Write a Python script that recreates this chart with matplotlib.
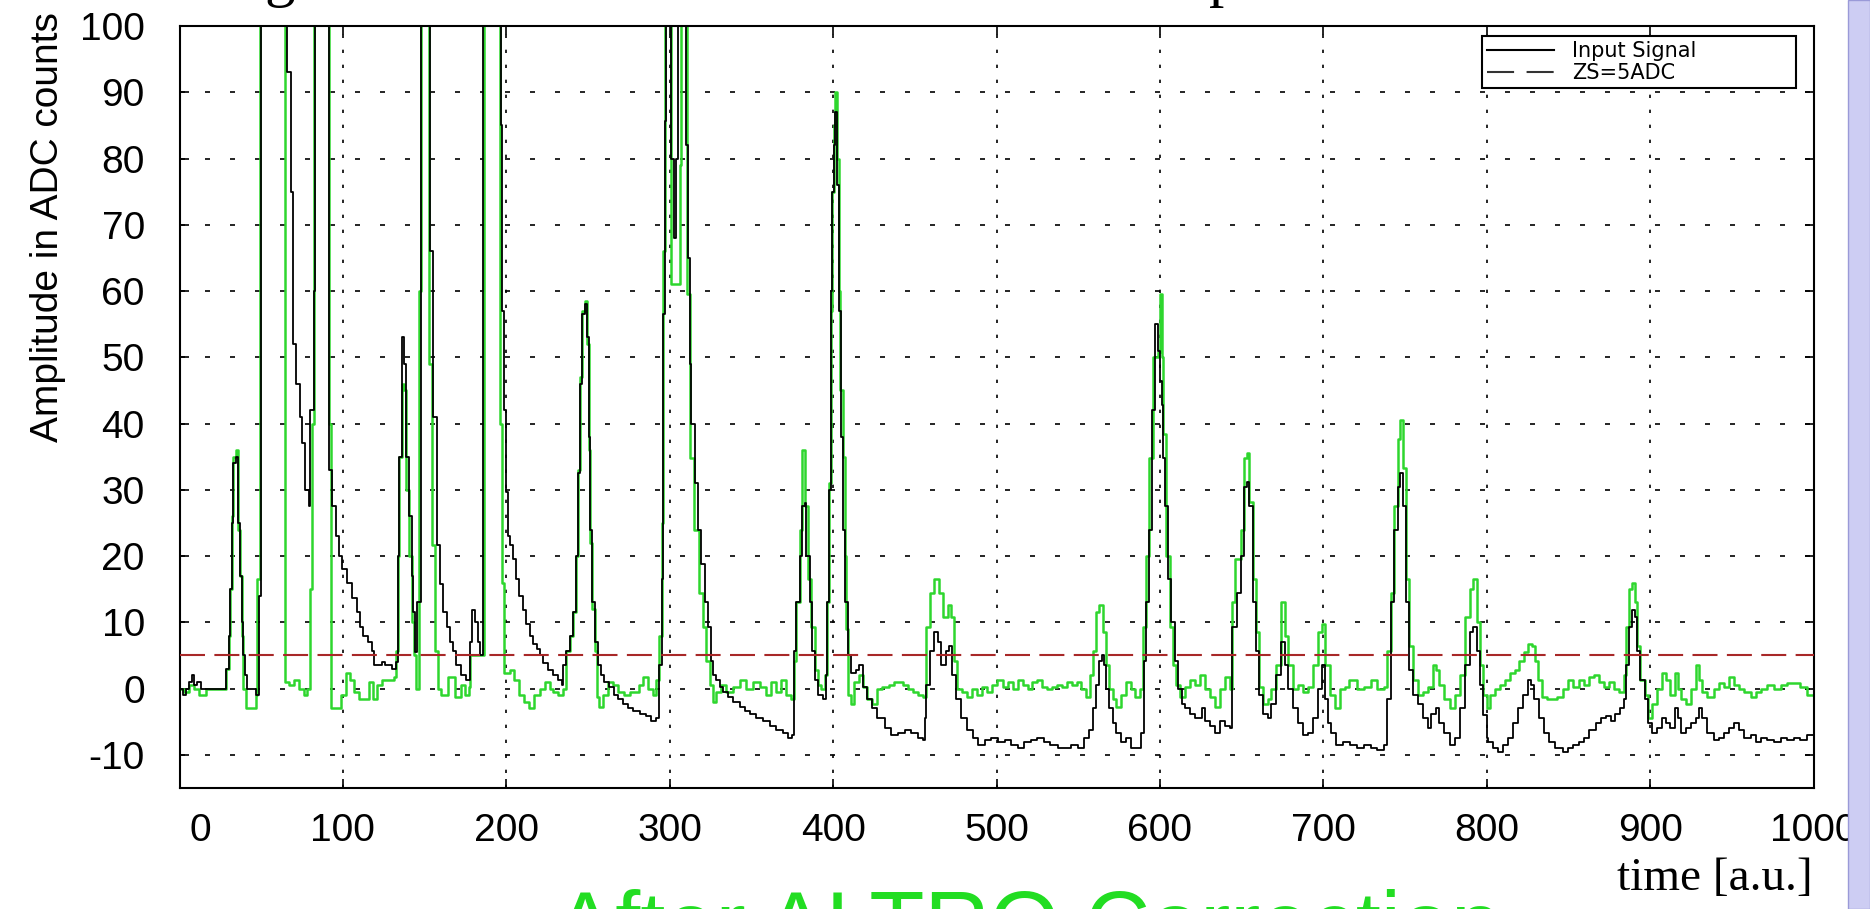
import numpy as np
import matplotlib
matplotlib.use("Agg")
import matplotlib.pyplot as plt
from matplotlib.lines import Line2D
from matplotlib.patches import Rectangle
from matplotlib.transforms import ScaledTranslation

# values; 130 = off scale (clipped at 100)
# (time bin, ADC counts), drawn as steps
input_signal = [
    (0, 0), (2, -1), (4, 0), (6, 1), (7.5, 2), (9, 0.5), (11, 1), (13, 0), (28.5, 3), (30, 8),
    (31, 15), (32, 25), (33, 34), (34.5, 35), (36, 25), (37, 17), (38, 10), (39, 5), (40, 2), (41, 0),
    (47, -1), (48.5, 14), (50, 130), (66, 93), (68.5, 75), (69.5, 52), (71.5, 46), (73.5, 41), (75, 37), (77, 30),
    (79, 27.5), (80, 42), (82, 60), (83, 130), (91.5, 33), (93.5, 27.5), (95.5, 23), (97.5, 20), (99.5, 18), (102.5, 16),
    (105.5, 13.7), (108.5, 11.5), (110.5, 9.3), (112.5, 8), (115.5, 7), (117.5, 5.7), (119, 3.5), (124, 4), (126, 3.5), (130, 3),
    (132.5, 4), (133.5, 20), (134.5, 35), (136, 53), (137.5, 49), (138.5, 35), (140.5, 26), (142, 17), (143, 11.5), (144, 5.5),
    (145.5, 13), (147.5, 130), (153.5, 66), (155, 41), (157.5, 21.7), (159.5, 15.8), (161.5, 11.5), (163.5, 9.3), (165.5, 7), (167.5, 5.7),
    (169.5, 3.5), (172.5, 2), (175.5, 1.3), (177.5, 7), (179, 11.8), (181, 10), (182.5, 7), (184, 5), (186, 130), (196.5, 85),
    (197.5, 57), (198.5, 42), (199.5, 29.7), (201, 23), (202, 21.7), (204, 19.5), (206, 16.6), (208, 14), (210.3, 11.8), (212.3, 9.7),
    (214.4, 7.9), (216.4, 6.8), (218.5, 6), (220.5, 5), (222.5, 3.9), (225.6, 2.8), (228.7, 2), (231.7, 1.3), (233.8, 0.6), (234.8, 3.5),
    (236.8, 5.7), (238.8, 7.9), (240.9, 11.5), (242.9, 20), (244, 32.6), (245, 46), (246.5, 56.6), (248, 58), (249.5, 53), (250.5, 38),
    (251.5, 24), (252.5, 13), (254, 7), (256, 3.5), (258, 2), (260, 1), (263, 0.2), (266, -0.9), (268.3, -1.6), (271.4, -2.3),
    (274.5, -3), (277.5, -3.4), (281.7, -3.8), (285.7, -4.1), (288.8, -4.9), (291.8, -4.5), (293.5, 3.5), (295, 16.6), (296, 56.6), (297, 85.7),
    (298, 130), (301, 80), (302.5, 68), (304, 80), (305, 130), (310, 82), (311.2, 65), (312.2, 49), (313.2, 40), (315.3, 31),
    (317.3, 24), (319.4, 18.8), (321.4, 13), (323.4, 9.3), (325.5, 4.2), (326.5, 2), (328.6, 1.3), (330.6, 0.2), (332.6, -0.5), (335.7, -1.2),
    (338.7, -2), (342.8, -2.7), (345.9, -3.4), (348.9, -3.8), (353, -4.5), (357.1, -4.9), (361.2, -5.6), (365.2, -6.3), (369.3, -6.7), (372.4, -7.4),
    (375, -7), (375.8, 5.7), (377.5, 13), (379.5, 20), (381, 27.5), (382.5, 28), (383.6, 20), (385.6, 13), (387.3, 5.7), (388.7, 1.3),
    (390.7, -0.9), (393.8, -1.6), (395.5, 2), (396.5, 13), (397.5, 30), (398.5, 60), (399.5, 75), (400.5, 82), (401.3, 87), (402.5, 76),
    (403.4, 57), (405, 38), (406, 24), (407, 13), (409, 5), (411, 2.4), (414, 2.8), (416, 3.5), (418, 0.2), (421, -1.6),
    (424, -3), (427, -4.5), (431.5, -6), (435.6, -7), (439.7, -6.7), (443.7, -6.3), (447.8, -6.7), (451.9, -7.4), (455, -7.8), (456, -4.5),
    (457, 0.6), (459, 5.7), (462, 8.6), (464, 7.1), (466, 3.5), (469, 5.7), (471, 6.4), (473, 2), (475, -1.6), (478, -4.5),
    (482, -6.3), (485.5, -7.4), (488.6, -8.5), (492.7, -7.8), (496.7, -7.4), (500.8, -8.1), (505, -7.8), (509, -8.5), (513, -8.9), (517, -8.1),
    (521, -7.8), (525, -7.4), (529, -8.1), (533, -8.5), (537.5, -8.9), (541.6, -8.9), (545.7, -8.5), (549.7, -8.9), (553.8, -7.4), (556.9, -6.3),
    (559, -3), (561, 0.6), (563, 4.2), (564.4, 5), (565.6, 3.5), (567, 0), (569, -3), (571, -5.2), (573, -6.7), (576, -8.1),
    (579, -7.4), (582, -8.9), (586, -8.9), (588.5, -6.7), (590, 4.2), (591.5, 13), (593.5, 24), (595, 42), (597, 55), (599, 51),
    (600, 46.4), (601, 42.8), (602, 34.8), (603, 27.5), (605, 16.6), (607, 10), (609, 4.2), (611, 0), (613.4, -2.3), (615.5, -3),
    (618.6, -3.8), (621.6, -4.5), (625.8, -3), (627.8, -4.9), (630.9, -5.6), (634, -6.7), (637, -4.9), (640, -5.6), (642.7, -6), (644.3, 9.3),
    (647.4, 14.4), (649.5, 20), (651.5, 30.4), (653, 31.2), (654.6, 27.5), (656.7, 13), (658.8, 5.7), (660.8, -0.9), (663, -3.8), (666, -4.5),
    (668, -2.3), (671, 2), (673.8, 7.1), (676.3, 3.5), (678.4, 0), (681.4, -3), (684.5, -5.2), (687.6, -7), (690.7, -6.7), (693.8, -4.5),
    (696.9, 0), (699, 3.5), (701, -1.6), (703, -5.2), (705, -6.7), (708, -8.5), (712, -8.1), (716.5, -8.5), (720.6, -8.9), (724.7, -8.5),
    (729, -8.9), (733, -9.2), (737, -8.5), (739.2, -1.6), (741.2, 13), (743.3, 24), (745.4, 30.4), (747, 32.6), (748.5, 27.5), (750.5, 13),
    (752.6, 2.8), (754.6, -0.9), (757.7, -2.3), (760.8, -4.5), (763.9, -6), (766, -3.8), (769, -3), (771, -5.2), (774, -6.7), (777.3, -8.5),
    (780.4, -7.4), (783.5, -3), (786.6, 3.5), (789.7, 8.6), (791.8, 9.3), (793.8, 5.7), (795.9, 0.6), (798, -4), (800, -7.4), (801, -8.1),
    (804, -8.9), (807, -9.6), (810, -8.5), (813, -7.4), (816, -5.2), (819, -3), (822, -0.9), (825, 1.3), (827, 0.6), (829, -1.6),
    (832, -4.5), (835, -6.7), (838, -8.1), (842, -8.9), (846.5, -9.6), (849.5, -8.9), (852.5, -8.5), (856.6, -8.1), (859.6, -7.4), (862.6, -6.3),
    (866.7, -5.2), (869.7, -4.5), (872.7, -4.1), (875.8, -4.9), (878.8, -3.8), (881.8, -3), (883.8, -1.6), (885.3, 3.5), (886.9, 9.3), (888.9, 11.8),
    (890.5, 10.8), (891.9, 5.7), (893.9, 1.3), (897, -1.6), (899, -5.2), (901, -6.7), (904, -6), (907, -4.5), (910, -5.2), (912, -6),
    (915, -3), (917, -4.5), (919, -6.7), (922, -6), (925, -5.2), (928, -4.5), (930, -3), (932, -4.5), (935, -6.7), (939, -7.8),
    (942, -7.4), (945.5, -6.7), (948.5, -6), (951.5, -5.2), (954.5, -6.3), (957.6, -7.4), (961.6, -7), (964.6, -8.1), (967.7, -7.4), (971.7, -7.8),
    (975.8, -8.1), (979.8, -7.4), (983.8, -7.8), (987.9, -7.4), (991.9, -7.8), (996, -7), (1000, -7.4),
]

after_altro = [
    (0, 0), (3, -0.5), (6, 0.5), (9, 0), (12, -1), (16, 0), (28.5, 3), (30, 8), (31, 15), (32, 26),
    (33, 35), (34.5, 36), (36, 24), (37, 17), (38, 8), (39, 0), (40.5, -3), (46.5, -1), (47.5, 16.6), (49, 130),
    (64.5, 1), (67, 0.5), (70, 1.3), (73, 0), (76, -1), (78, 0), (80, 15), (81, 40), (82.5, 130), (91.5, 40),
    (92.5, -3), (99, -1), (102, 2.4), (104.5, 1.3), (107, -0.5), (110, -1.6), (113.5, -1.6), (116, 1), (118.5, -1.6), (121, 0.6),
    (124, 1.3), (128, 1.3), (131, 1.7), (132.5, 5.7), (133.5, 20), (134.5, 35), (136, 46), (137.5, 45), (138.5, 30), (140.5, 20),
    (142, 10), (143.5, 5), (145, 0), (146.5, 60), (148, 130), (152.5, 49), (154.5, 21.7), (156.5, 5.7), (158, 0), (160, -1),
    (164.5, 1.7), (168.5, -1.2), (172, 0.6), (175, -1), (177, 0.2), (178, 5), (184, 5), (186.5, 130), (196, 40), (197.5, 16),
    (198.5, 2.4), (202, 2.8), (205, 1.3), (208, -0.9), (211, -2), (214, -3), (217, -0.9), (220.5, 0), (223.5, 1), (226.6, 0),
    (228.7, -0.5), (231.7, -0.9), (234.8, 0), (236.8, 5.7), (238.8, 7.9), (240.9, 11.5), (242.9, 20), (244, 33), (245, 47), (246.5, 57),
    (248, 58.5), (249.5, 52), (250.5, 36), (251.5, 22), (252.5, 12), (254, 5.7), (255.5, -1.2), (257, -2.7), (259, -0.9), (262, 1),
    (265, 0.6), (268.5, -0.5), (272, -0.9), (275.5, -0.5), (278.5, -0.5), (281, 0.6), (283.7, 1.7), (286.8, 0), (289.8, -0.9), (291.8, 1.3),
    (293.5, 8), (295, 25), (296, 66), (297, 130), (301, 61), (304.5, 61), (306, 79), (307, 130), (310.5, 59.5), (312.5, 34.8),
    (315, 24), (318, 14.4), (320.4, 9.3), (322.4, 4.2), (324.5, 0.6), (326.5, -2), (328.6, -0.5), (331.6, 0.6), (334.7, -0.5), (338.7, 0.2),
    (342.8, 1.3), (346.9, 0), (351, 1), (355, 0.2), (359.1, -0.9), (362.2, 1), (365.2, -0.5), (368.3, 1.3), (371.4, -0.9), (374.4, -1.6),
    (375.8, 4.2), (377.5, 13), (379.5, 24), (381, 36), (383, 27.5), (384.5, 16.6), (386.6, 9.3), (388.7, 2.8), (390.7, 0.6), (392.8, 0),
    (394.8, 2), (396.5, 13), (397.5, 31), (398.5, 57), (399.5, 75), (400.5, 85), (401.3, 90), (402.5, 80), (403.4, 60), (404.5, 45),
    (406, 35), (407, 20), (408, 9), (409, -1), (411, -2.3), (413, 1), (416, 2), (418, 0.2), (421, -1.6), (424, -2.3),
    (427, 0), (430, 0.2), (434, 0.6), (437, 1), (440, 1), (443, 0.6), (446, 0), (449, -0.5), (452, -0.9), (455, -1.2),
    (457, 9.3), (459, 14.4), (462, 16.6), (465, 14.4), (467, 10.8), (470, 12.6), (472, 10.8), (474, 4.2), (476, 0), (479, -0.5),
    (482, -1.2), (485, 0), (488, -0.9), (491, 0.2), (494, -0.5), (497, 0.6), (500, 1.3), (504, 0.2), (507, 1), (510, 0),
    (513, 1.3), (516, 0.6), (519, 0), (522, 1), (525, 1.3), (528, 0.2), (531, 0), (534, 0.2), (537, 0.6), (540, 0.2),
    (543, 1), (546, 0.6), (549, 1), (552, 0), (555, -1.2), (557, 2), (559, 5.7), (561, 11.5), (563, 12.6), (565, 8.6),
    (567, 3.5), (569, 0), (571, -1.6), (573, -2.7), (576, -0.9), (579, 1), (582, 0), (585, -1.2), (588, 0), (589.5, 9.3),
    (591.5, 20), (593.5, 34.8), (595.5, 50), (597.5, 50), (599, 50.8), (600, 59.5), (601, 50), (602, 38.4), (604, 20), (606, 9.3),
    (608, 3.5), (610, 0.6), (612, -1.2), (615.5, 0.2), (618.6, 1.3), (621.6, 0.6), (624.7, 2), (627.8, 0), (630.9, -1.2), (634, -2.7),
    (637, 0), (640, 1.7), (642.7, 0), (644.3, 13), (646, 19.5), (649.5, 24), (651.5, 34.8), (653, 35.5), (654.6, 28.2), (656.7, 16.6),
    (658.8, 8.6), (660.8, 0.2), (663, -2.3), (666, -1.6), (668, 0), (671, 3.5), (673.8, 13), (676.3, 7.9), (678.4, 3.5), (681.4, 0),
    (684.5, 0.6), (687.6, -0.5), (690.7, 0.2), (693.8, 3.5), (696.9, 8.6), (699, 9.7), (701, 3.5), (703.8, -0.9), (706.9, -3), (710, 0),
    (713.1, 0.2), (716, 1.3), (720.6, 0), (724.7, 0.2), (728.9, 1.3), (733, 0), (737.1, 0.2), (739.2, 5.7), (741.2, 14.4), (743.3, 27.5),
    (745.4, 37.7), (747, 40.6), (748.5, 33.3), (750.5, 16.6), (752.6, 6.4), (754.6, 1.3), (757.7, -0.9), (760.8, -0.5), (763.9, 0.2), (767, 3.5),
    (769, 2.8), (771, 0.6), (774, -1.6), (777.3, -3), (780.4, -0.9), (783.5, 2), (786.6, 10.8), (789.7, 15), (791.8, 16.6), (793.8, 10),
    (795.9, 3.5), (798, -1), (800, -3), (802, -0.9), (805, 0), (808, 0.6), (811, 1.3), (814, 2.4), (817, 2.8), (820, 4.2),
    (823, 5.5), (825.5, 6.8), (827.5, 6.4), (829.5, 4.2), (831.5, 1.3), (834, -1.2), (837, -1.6), (840, -1.6), (843, -1.2), (846.5, 0),
    (849.5, 1.3), (852.5, 0.2), (856.6, 1.3), (859.6, 0.6), (862.6, 1.7), (865.7, 2), (868.7, 1), (871.7, 0.2), (874.8, 1), (877.8, 0),
    (880.8, -0.5), (883.8, 2), (885.5, 9.3), (887, 15.1), (889, 15.9), (890.5, 13), (892, 6.4), (894, 1.3), (897, -0.9), (899, -4.5),
    (901, -2.3), (904, 0), (907, 2.4), (910, 1.3), (912, -0.9), (915, 2.4), (917, 0), (919, -1.6), (922, -2.3), (925, 0),
    (928, 3.5), (930, 1.3), (932, -0.5), (935, -1.2), (939, 0), (942, 0.9), (945.5, 0.2), (948.5, 1.7), (951.5, 0.6), (954.5, 0),
    (957.6, -0.5), (961.6, -1.2), (964.6, -0.5), (967.7, 0), (971.7, 0.6), (975.8, 0), (979.8, 0.6), (983.8, 0.9), (987.9, 0.9), (991.9, 0.2),
    (996, -1), (1000, 0),
]

zs_level = 5
x_ticks = np.arange(0, 1001, 100)
y_ticks = np.arange(-10, 101, 10)

t_in, adc_in = np.array(input_signal).T
t_out, adc_out = np.array(after_altro).T

plt.rcParams['font.family'] = ['Liberation Sans', 'DejaVu Sans']
plt.rcParams['axes.unicode_minus'] = False

fig = plt.figure(figsize=(18.7, 9.09), dpi=100)
ax = fig.add_axes([0.096, 0.1331, 0.8738, 0.8383])

ax.step(t_out, adc_out, where='post', color='#2ed62e', lw=1.8, zorder=2)
ax.step(t_in, adc_in, where='post', color='black', lw=1.3, zorder=3)
ax.axhline(zs_level, color='#a82828', lw=1.5, dashes=(12, 4.5), zorder=4)

ax.set_xlim(0, 1000)
ax.set_ylim(-15, 100)
ax.set_xticks(x_ticks)
ax.set_yticks(y_ticks)
ax.tick_params(direction='in', length=6.5, width=1.2, top=True, right=True, labelsize=28)
ax.tick_params(axis='y', pad=25)
ax.tick_params(axis='x', pad=18)
ax.xaxis.grid(True, color='black', lw=1.2, ls=(0, (2, 7)))
ax.yaxis.grid(True, color='black', lw=1.2, ls=(0, (3, 12)))
for s in ax.spines.values():
    s.set_linewidth(1.5)

# the "0" label sits a bit right of its tick, as in the original
lab0 = ax.xaxis.get_major_ticks()[0].label1
lab0.set_transform(lab0.get_transform() + ScaledTranslation(0.21, 0, fig.dpi_scale_trans))

handles = [Line2D([], [], color='black', lw=1.5),
           Line2D([], [], color='#333333', lw=1.5, dashes=(13, 6))]
leg = ax.legend(handles, ['Input Signal', 'ZS=5ADC'], loc='upper left',
                bbox_to_anchor=(0.797, 0.917, 0.192, 0.070), mode='expand', borderaxespad=0,
                fancybox=False, framealpha=1, edgecolor='black', prop={'family': 'DejaVu Sans', 'size': 15},
                borderpad=0.25, labelspacing=0.1, handlelength=3.2, handletextpad=0.9)
leg.get_frame().set_linewidth(1.5)

fig.text(48 / 1870, 1 - 12 / 909, 'Amplitude in ADC counts', rotation=90, ha='center', va='top', fontsize=28)
fig.text(1813 / 1870, 1 - 879 / 909, 'time [a.u.]', ha='right', va='center', fontsize=34, family='Liberation Serif')
fig.text(555 / 1870, 1 - 955 / 909, 'After ALTRO Correction', ha='left', va='baseline', fontsize=65, color='#22dd22')

# descenders of the cut-off title line above the plot
fig.text(280 / 1870, 1 + 5 / 909, 'g', ha='center', va='baseline', fontsize=44, family='Liberation Serif')
fig.text(1224 / 1870, 1 + 5 / 909, 'p', ha='center', va='baseline', fontsize=44, family='Liberation Serif')

# lavender strip at the right border
fig.patches.append(Rectangle((1848 / 1870, 0), 22 / 1870, 1, transform=fig.transFigure,
                             facecolor='#cdcdf3', edgecolor='#9a9ad8', lw=1, zorder=10))

fig.savefig('out.png', dpi=100)
